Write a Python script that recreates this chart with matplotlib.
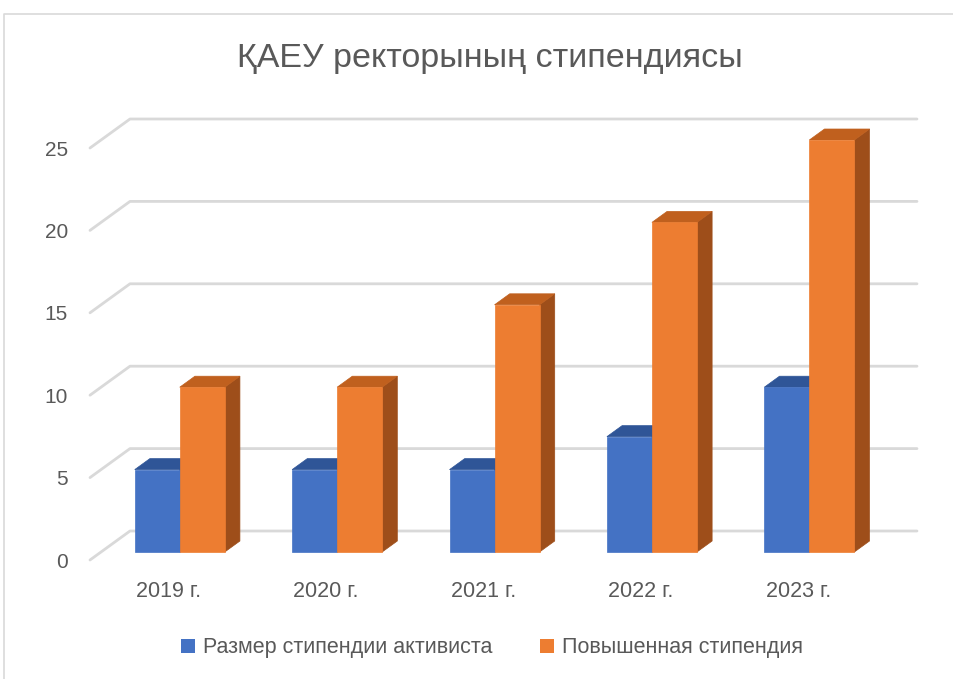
import matplotlib
matplotlib.use("Agg")
import matplotlib.pyplot as plt
from matplotlib.patches import Polygon, Patch
from matplotlib.lines import Line2D

categories = ["2019 г.", "2020 г.", "2021 г.", "2022 г.", "2023 г."]
activist = [5, 5, 5, 7, 10]
increased = [10, 10, 15, 20, 25]
series_names = ["Размер стипендии активиста", "Повышенная стипендия"]
yticks = [0, 5, 10, 15, 20, 25]
title = "ҚАЕУ ректорының стипендиясы"

FONT = ["Liberation Sans", "DejaVu Sans"]
plt.rcParams["font.family"] = FONT
TXT = "#595959"

W, H = 954, 679
fig = plt.figure(figsize=(W / 100, H / 100), dpi=100)
left_px, right_px = 90, 877
bot_px, top_px = 560, 148
ax = fig.add_axes([left_px / W, 1 - bot_px / H, (right_px - left_px) / W, (bot_px - top_px) / H])
ax.set_xlim(-0.5, 4.5)
ax.set_ylim(0, 25)
for s in ax.spines.values():
    s.set_visible(False)

xu = (right_px - left_px) / 5.0
yu = (bot_px - top_px) / 25.0
DX = 40 / xu  # full depth in x data units
DY = 29 / yu  # full depth in y data units

grid_c = "#D9D9D9"
for v in yticks:
    ax.plot([-0.5, -0.5 + DX, 4.5 + DX], [v, v + DY, v + DY], color=grid_c, lw=2.0,
            clip_on=False, solid_capstyle="round", zorder=1)

f1, f2 = 0.276, 0.655
bw = 0.286
colors = [("#4472C4", "#2F5597", "#2F528F"), ("#ED7D31", "#C0601E", "#9E4E1A")]


def bar3d(x0, h, cols, z):
    front, top, side = cols
    ox1, oy1 = f1 * DX, f1 * DY
    ox2, oy2 = f2 * DX, f2 * DY
    x1 = x0 + bw
    fr = [(x0 + ox1, oy1), (x1 + ox1, oy1), (x1 + ox1, h + oy1), (x0 + ox1, h + oy1)]
    tp = [(x0 + ox1, h + oy1), (x1 + ox1, h + oy1), (x1 + ox2, h + oy2), (x0 + ox2, h + oy2)]
    sd = [(x1 + ox1, oy1), (x1 + ox2, oy2), (x1 + ox2, h + oy2), (x1 + ox1, h + oy1)]
    for pts, c in ((sd, side), (tp, top), (fr, front)):
        ax.add_patch(Polygon(pts, closed=True, facecolor=c, edgecolor=c, lw=0.5,
                             clip_on=False, zorder=z))


for i in range(len(categories)):
    bar3d(i - bw, activist[i], colors[0], 3)
    bar3d(i, increased[i], colors[1], 4)

ax.set_yticks(yticks)
ax.set_yticklabels([str(v) for v in yticks], fontsize=15, color=TXT)
ax.tick_params(axis="y", length=0, pad=16)
ax.set_xticks(range(len(categories)))
ax.set_xticklabels(categories, fontsize=15.5, color=TXT)
ax.tick_params(axis="x", length=0, pad=15)

fig.text(489.5 / W, 1 - 59 / H, title, fontsize=24.5, color=TXT, ha="center", va="center")

handles = [Patch(facecolor=colors[0][0]), Patch(facecolor=colors[1][0])]
fig.legend(handles, series_names, loc="center", bbox_to_anchor=(492 / W, 1 - 648 / H),
           ncol=2, frameon=False, fontsize=15.5, labelcolor=TXT, handlelength=0.65,
           handleheight=0.65, handletextpad=0.4, columnspacing=2.2)

fig.add_artist(Line2D([4 / W, 4 / W, 1.0], [0.0, 1 - 14 / H, 1 - 14 / H],
                      color="#D9D9D9", lw=1.2, transform=fig.transFigure))

fig.savefig("out.png", dpi=100)
